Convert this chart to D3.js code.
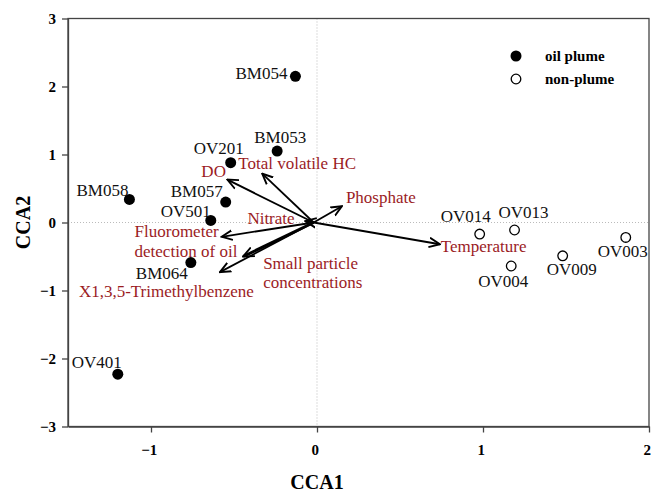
<!DOCTYPE html>
<html>
<head>
<meta charset="utf-8">
<script src="https://cdn.jsdelivr.net/npm/d3@7"></script>
<style>
  body { margin: 0; background: #fff; }
  svg text { font-family: "Liberation Serif", "Times New Roman", serif; }
</style>
</head>
<body>
<svg id="chart" width="652" height="492"></svg>
<script>
// sample scores
var plumeSites = ['BM054', 'BM053', 'OV201', 'BM058', 'BM057', 'OV501', 'BM064', 'OV401'];
var plumeX = [-0.13, -0.24, -0.52, -1.13, -0.55, -0.64, -0.76, -1.20];
var plumeY = [2.15, 1.05, 0.88, 0.34, 0.30, 0.03, -0.59, -2.23];

var nonPlumeSites = ['OV014', 'OV013', 'OV004', 'OV009', 'OV003'];
var nonPlumeX = [0.98, 1.19, 1.17, 1.48, 1.86];
var nonPlumeY = [-0.17, -0.11, -0.64, -0.49, -0.22];

// environmental vectors
var envVars = ['DO', 'Total volatile HC', 'Nitrate', 'Phosphate', 'Temperature',
               'Fluorometer detection of oil', 'Small particle concentrations', 'X1,3,5-Trimethylbenzene'];
var envX = [-0.54, -0.33, -0.07, 0.15, 0.74, -0.575, -0.445, -0.585];
var envY = [0.63, 0.72, 0.02, 0.24, -0.32, -0.21, -0.50, -0.73];
var envOrigin = [-0.02, 0];

var xTicks = [-1, 0, 1, 2];
var yTicks = [-3, -2, -1, 0, 1, 2, 3];

// label placement (pixels relative to point / arrow tip)
var siteLabelPos = {
  BM054: [-8, 3, 'end'], BM053: [3, -8, 'middle'], OV201: [-12, -9, 'middle'],
  BM058: [-27, -3, 'middle'], BM057: [-29, -5, 'middle'], OV501: [-25, -3, 'middle'],
  BM064: [-29, 16, 'middle'], OV401: [-21, -6, 'middle'],
  OV014: [-14, -12, 'middle'], OV013: [9, -12, 'middle'], OV004: [-8, 21, 'middle'],
  OV009: [9, 19, 'middle'], OV003: [-3, 20, 'middle']
};
var envLabelPos = {
  'DO': [[-26, -3]], 'Total volatile HC': [[-24, -5]], 'Nitrate': [[-58, 3]],
  'Phosphate': [[4, -3]], 'Temperature': [[1, 8]],
  'Fluorometer detection of oil': [[-87, 0, 'Fluorometer'], [-87, 20, 'detection of oil']],
  'Small particle concentrations': [[20, 12, 'Small particle'], [20, 31, 'concentrations']],
  'X1,3,5-Trimethylbenzene': [[-141, 25]]
};

var margin = {top: 18.5, right: 3, bottom: 65.5, left: 68};
var width = 652 - margin.left - margin.right;
var height = 492 - margin.top - margin.bottom;

var svg = d3.select('#chart');
var g = svg.append('g').attr('transform', 'translate(' + margin.left + ',' + margin.top + ')');

var x = d3.scaleLinear().domain([-1.5, 2]).range([0, width]);
var y = d3.scaleLinear().domain([-3, 3]).range([height, 0]);

var red = '#9b1c1f';

// dotted zero lines
g.append('line').attr('x1', x(0)).attr('x2', x(0)).attr('y1', 0).attr('y2', height)
  .attr('stroke', '#bbb').attr('stroke-width', 1).attr('stroke-dasharray', '1,2');
g.append('line').attr('x1', 0).attr('x2', width).attr('y1', y(0)).attr('y2', y(0))
  .attr('stroke', '#bbb').attr('stroke-width', 1).attr('stroke-dasharray', '1,2');

// frame
g.append('rect').attr('width', width).attr('height', height)
  .attr('fill', 'none').attr('stroke', '#444').attr('stroke-width', 1.3);

var xAxis = g.append('g').attr('transform', 'translate(0,' + height + ')')
  .call(d3.axisBottom(x).tickValues(xTicks).tickFormat(d3.format('d'))
    .tickSize(6).tickPadding(12).tickSizeOuter(0));
var yAxis = g.append('g')
  .call(d3.axisLeft(y).tickValues(yTicks).tickFormat(d3.format('d'))
    .tickSize(6).tickPadding(6).tickSizeOuter(0));
[xAxis, yAxis].forEach(function(a) {
  a.select('.domain').attr('stroke', '#444').attr('stroke-width', 1.3);
  a.selectAll('.tick line').attr('stroke', '#444').attr('stroke-width', 1.3);
  a.selectAll('.tick text').attr('fill', '#000')
    .style('font-family', '"Liberation Serif", serif')
    .style('font-size', '15px').style('font-weight', 'bold');
});
xAxis.selectAll('.tick text').attr('dx', '-0.15em');

svg.append('text').attr('x', margin.left + x(0)).attr('y', 489)
  .attr('text-anchor', 'middle').style('font-size', '20px').style('font-weight', 'bold')
  .text('CCA1');
svg.append('text').attr('transform', 'translate(30,' + (margin.top + y(0)) + ') rotate(-90)')
  .attr('text-anchor', 'middle').style('font-size', '20px').style('font-weight', 'bold')
  .text('CCA2');

// arrowhead
svg.append('defs').append('marker')
  .attr('id', 'arrow').attr('viewBox', '0 0 10 10').attr('refX', 9).attr('refY', 5)
  .attr('markerUnits', 'userSpaceOnUse').attr('markerWidth', 12).attr('markerHeight', 12)
  .attr('orient', 'auto')
  .append('path').attr('d', 'M0,1 L9,5 L0,9').attr('fill', 'none')
  .attr('stroke', '#000').attr('stroke-width', 1.6);

var env = envVars.map(function(name, i) { return {name: name, x: envX[i], y: envY[i]}; });

g.selectAll('.vec').data(env).enter().append('line')
  .attr('class', 'vec')
  .attr('x1', x(envOrigin[0])).attr('y1', y(envOrigin[1]))
  .attr('x2', function(d) { return x(d.x); }).attr('y2', function(d) { return y(d.y); })
  .attr('stroke', '#000')
  .attr('stroke-width', function(d) { return d.name === 'Small particle concentrations' ? 3 : 1.8; })
  .attr('marker-end', 'url(#arrow)');

env.forEach(function(d) {
  envLabelPos[d.name].forEach(function(p) {
    g.append('text')
      .attr('x', x(d.x) + p[0]).attr('y', y(d.y) + p[1])
      .attr('fill', red).style('font-size', '17px')
      .text(p[2] || d.name);
  });
});

// sites
var plume = plumeSites.map(function(s, i) { return {name: s, x: plumeX[i], y: plumeY[i]}; });
var nonPlume = nonPlumeSites.map(function(s, i) { return {name: s, x: nonPlumeX[i], y: nonPlumeY[i]}; });

g.selectAll('.plume').data(plume).enter().append('circle')
  .attr('class', 'plume')
  .attr('cx', function(d) { return x(d.x); }).attr('cy', function(d) { return y(d.y); })
  .attr('r', 5.5).attr('fill', '#000');

g.selectAll('.nonplume').data(nonPlume).enter().append('circle')
  .attr('class', 'nonplume')
  .attr('cx', function(d) { return x(d.x); }).attr('cy', function(d) { return y(d.y); })
  .attr('r', 4.8).attr('fill', '#fff').attr('stroke', '#000').attr('stroke-width', 1.3);

g.selectAll('.site-label').data(plume.concat(nonPlume)).enter().append('text')
  .attr('class', 'site-label')
  .attr('x', function(d) { return x(d.x) + siteLabelPos[d.name][0]; })
  .attr('y', function(d) { return y(d.y) + siteLabelPos[d.name][1]; })
  .attr('text-anchor', function(d) { return siteLabelPos[d.name][2]; })
  .style('font-size', '17px').attr('fill', '#111')
  .text(function(d) { return d.name; });

// legend
var legend = svg.append('g').attr('transform', 'translate(516,56)');
legend.append('circle').attr('cx', 0).attr('cy', 0).attr('r', 5.5).attr('fill', '#000');
legend.append('circle').attr('cx', 0).attr('cy', 23).attr('r', 4.8)
  .attr('fill', '#fff').attr('stroke', '#000').attr('stroke-width', 1.3);
legend.append('text').attr('x', 29).attr('y', 5).style('font-size', '15px').style('font-weight', 'bold').text('oil plume');
legend.append('text').attr('x', 29).attr('y', 28).style('font-size', '15px').style('font-weight', 'bold').text('non-plume');
</script>
</body>
</html>
